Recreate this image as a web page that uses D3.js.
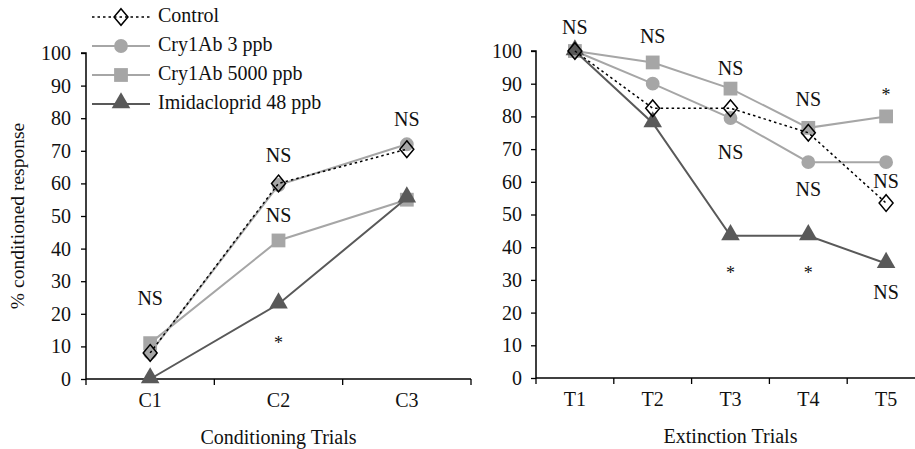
<!DOCTYPE html>
<html>
<head>
<meta charset="utf-8">
<script src="https://cdn.jsdelivr.net/npm/d3@7/dist/d3.min.js"></script>
<style>
  body { margin: 0; background: #fff; }
  svg { display: block; font-family: "Liberation Serif", "DejaVu Serif", serif; }
</style>
</head>
<body>
<div id="chart"></div>
<script>
'use strict';

const condTrials = ['C1', 'C2', 'C3'];
const extTrials = ['T1', 'T2', 'T3', 'T4', 'T5'];
const yTicks = [0, 10, 20, 30, 40, 50, 60, 70, 80, 90, 100];

const seriesNames = ['Control', 'Cry1Ab 3 ppb', 'Cry1Ab 5000 ppb', 'Imidacloprid 48 ppb'];

// conditioning values, one array per series
const condControl = [8, 60, 70.5];
const condCry3 = [8, 59.5, 72];
const condCry5000 = [11, 42.5, 55];
const condImida = [0, 23, 55.5];

// extinction values
const extControl = [100, 82.5, 82.5, 75, 53.5];
const extCry3 = [100, 90, 79.5, 66, 66];
const extCry5000 = [100, 96.5, 88.5, 76.5, 80];
const extImida = [100, 78, 43.5, 43.5, 35];

// significance marks: [trial, value level, text]
const condMarks = [['C1', 24, 'NS'], ['C2', 68, 'NS'], ['C2', 49.5, 'NS'], ['C2', 10.5, '*'], ['C3', 79, 'NS']];
const extMarks = [['T1', 106.5, 'NS'], ['T2', 104, 'NS'], ['T3', 94, 'NS'], ['T3', 68.5, 'NS'], ['T3', 31.5, '*'],
    ['T4', 84.5, 'NS'], ['T4', 57, 'NS'], ['T4', 31.5, '*'], ['T5', 86, '*'], ['T5', 59.5, 'NS'], ['T5', 25.5, 'NS']];

const FS = 20;

const styles = [
    {stroke: '#000', width: 1.5, dash: '2.5,3', shape: 'diamond', fill: 'none', mstroke: '#000'},
    {stroke: '#a6a6a6', width: 2, dash: null, shape: 'circle', fill: '#a6a6a6', mstroke: 'none'},
    {stroke: '#a6a6a6', width: 2, dash: null, shape: 'square', fill: '#a6a6a6', mstroke: 'none'},
    {stroke: '#595959', width: 2, dash: null, shape: 'triangle', fill: '#595959', mstroke: 'none'}
];
const drawOrder = [2, 1, 3, 0];

const svg = d3.select('#chart').append('svg').attr('width', 915).attr('height', 449);

function marker(g, shape, x, y, st) {
    let sym, size;
    if (shape === 'circle') { sym = d3.symbolCircle; size = 150; }
    else if (shape === 'square') { sym = d3.symbolSquare; size = 190; }
    else if (shape === 'triangle') { sym = d3.symbolTriangle; size = 150; }
    else { sym = d3.symbolDiamond; size = 80; }
    let path = g.append('path')
        .attr('d', d3.symbol().type(sym).size(size)())
        .attr('transform', 'translate(' + x + ',' + (shape === 'triangle' ? y - 1 : y) + ')' + (shape === 'diamond' ? ' scale(1.45,1)' : ''))
        .attr('fill', st.fill)
        .attr('stroke', st.mstroke);
    if (shape === 'diamond') path.attr('stroke-width', 1.5).attr('vector-effect', 'non-scaling-stroke');
}

function panel(opts) {
    const x = d3.scaleBand().domain(opts.cats).range([opts.left, opts.right]);
    const y = d3.scaleLinear().domain([0, 100]).range([opts.bottom, opts.top]);
    const g = svg.append('g');

    // y axis
    const ya = g.append('g').attr('transform', 'translate(' + opts.left + ',0)')
        .call(d3.axisLeft(y).tickValues(yTicks).tickSize(5).tickPadding(opts.pad));
    ya.select('.domain').attr('d', 'M0,' + opts.bottom + 'V' + opts.top + 'H-5').attr('stroke-width', 1.5);
    ya.selectAll('.tick line').attr('stroke-width', 1.3);
    ya.selectAll('text').attr('font-size', FS).attr('font-family', 'Liberation Serif').attr('fill', '#111');

    // x axis
    const xa = g.append('g').attr('transform', 'translate(0,' + opts.bottom + ')')
        .call(d3.axisBottom(x).tickSize(0).tickPadding(14));
    xa.select('.domain').attr('d', 'M' + opts.left + ',0H' + opts.right).attr('stroke-width', 1.5);
    xa.selectAll('text').attr('font-size', FS).attr('font-family', 'Liberation Serif').attr('fill', '#111');
    const bounds = opts.cats.map(c => x(c)).concat([opts.right]);
    xa.selectAll('.bound').data(bounds).enter().append('line')
        .attr('x1', d => d).attr('x2', d => d).attr('y1', 0).attr('y2', 6)
        .attr('stroke', '#000').attr('stroke-width', 1.3);

    g.append('text').attr('x', (opts.left + opts.right) / 2).attr('y', opts.bottom + 65)
        .attr('text-anchor', 'middle').attr('font-size', FS).attr('fill', '#111').text(opts.title);

    const cx = c => x(c) + x.bandwidth() / 2;
    const line = d3.line().x((d, i) => cx(opts.cats[i])).y(d => y(d));

    drawOrder.forEach(si => {
        const st = styles[si];
        const vals = opts.series[si];
        g.append('path').datum(vals).attr('d', line).attr('fill', 'none')
            .attr('stroke', st.stroke).attr('stroke-width', st.width)
            .attr('stroke-dasharray', st.dash);
        vals.forEach((v, i) => marker(g, st.shape, cx(opts.cats[i]), y(v), st));
    });

    opts.marks.forEach(m => {
        g.append('text').attr('x', cx(m[0])).attr('y', y(m[1]))
            .attr('text-anchor', 'middle').attr('dominant-baseline', 'middle')
            .attr('font-size', m[2] === '*' ? 18 : FS).attr('fill', '#111').text(m[2]);
    });
}

panel({cats: condTrials, left: 86, right: 471, top: 53, bottom: 379, pad: 10, title: 'Conditioning Trials',
    series: [condControl, condCry3, condCry5000, condImida], marks: condMarks});
panel({cats: extTrials, left: 536, right: 925, top: 51, bottom: 378, pad: 9, title: 'Extinction Trials',
    series: [extControl, extCry3, extCry5000, extImida], marks: extMarks});

// y axis title
svg.append('text').attr('transform', 'translate(24,216) rotate(-90)')
    .attr('text-anchor', 'middle').attr('font-size', 19.5).attr('fill', '#111').text('% conditioned response');

// legend
const lg = svg.append('g');
const legendY = [17, 46, 75, 104];
seriesNames.forEach((name, i) => {
    const st = styles[i];
    const ly = legendY[i];
    lg.append('rect').attr('x', 90).attr('y', ly - 11).attr('width', 64).attr('height', 22).attr('fill', '#fff');
    lg.append('line').attr('x1', 92).attr('x2', 150).attr('y1', ly).attr('y2', ly)
        .attr('stroke', st.stroke).attr('stroke-width', st.width).attr('stroke-dasharray', st.dash);
    marker(lg, st.shape, 121, ly, st);
    lg.append('text').attr('x', 158).attr('y', ly).attr('dominant-baseline', 'middle')
        .attr('font-size', FS).attr('fill', '#111').text(name);
});
</script>
</body>
</html>
